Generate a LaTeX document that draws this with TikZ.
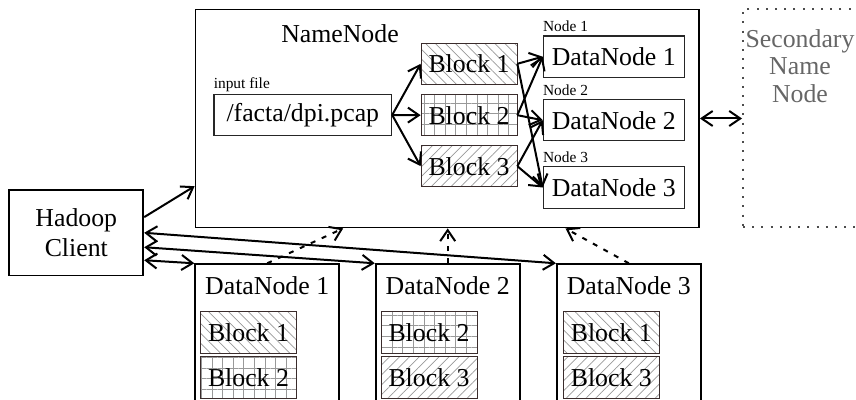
\documentclass[tikz,border=0pt]{standalone}
\usepackage{fontspec}
\setmainfont{Liberation Serif}
\usetikzlibrary{arrows.meta}
\usetikzlibrary{patterns.meta}
\usetikzlibrary{calc}
\definecolor{blkline}{HTML}{3A2C2C}
\tikzset{
    txt/.style={font=\fontsize{12.9}{15}\selectfont},
    lbl/.style={font=\fontsize{7.7}{9}\selectfont, inner sep=0pt, anchor=base west},
    box/.style={draw, line width=0.9pt, inner sep=0pt},
    inbox/.style={draw=black!85, line width=0.6pt, inner sep=0pt, minimum height=20.7pt, txt},
    blk/.style={draw=blkline, line width=0.5pt, inner sep=0pt, minimum width=48pt, minimum height=20.7pt, pattern color=black!40, txt},
    blkone/.style={blk, pattern={Lines[angle=-45,distance=3.5pt,line width=0.35pt]}},
    blktwo/.style={blk, pattern={Hatch[angle=0,distance=5.3pt,line width=0.35pt]}},
    blkthree/.style={blk, pattern={Lines[angle=45,distance=3.5pt,line width=0.35pt]}},
    dnbox/.style={box, minimum width=72pt, minimum height=80pt, anchor=north},
    secbox/.style={draw=black!70, line width=1pt, dash pattern=on 1pt off 3.6pt, inner sep=0pt},
    arr/.style={line width=1pt, -{Straight Barb[length=5.5pt,width=7.5pt]}},
    biarr/.style={line width=1pt, {Straight Barb[length=5.5pt,width=7.5pt]}-{Straight Barb[length=5.5pt,width=7.5pt]}},
    darr/.style={arr, dash pattern=on 2.5pt off 3.5pt},
}

\begin{document}
\begin{tikzpicture}[x=0.5pt, y=-0.5pt]
    \clip (0,0) rectangle (856,400);

    % name node
    \node[box, minimum width=251.75pt, minimum height=109pt] (nn) at (447.25,118.5) {};
    \node[txt, anchor=base] (nntitle) at (340,43) {NameNode};
    \node[inbox, minimum width=88.8pt] (file) at (302.8,115) {/facta/dpi.pcap};
    \node[lbl, yshift=2.5pt] (filelbl) at (file.north west) {input file};
    \node[blkone] (b1) at (469,63.8) {Block 1};
    \node[blktwo] (b2) at (469,115.2) {Block 2};
    \node[blkthree] (b3) at (469,166.2) {Block 3};
    \node[inbox, minimum width=70.5pt] (d1) at (613.8,56.7) {DataNode 1};
    \node[inbox, minimum width=70.5pt] (d2) at (613.8,120.2) {DataNode 2};
    \node[inbox, minimum width=70.5pt] (d3) at (613.8,187.5) {DataNode 3};
    \node[lbl, yshift=1.7pt] (d1lbl) at (d1.north west) {Node 1};
    \node[lbl, yshift=1.7pt] (d2lbl) at (d2.north west) {Node 2};
    \node[lbl, yshift=1.7pt] (d3lbl) at (d3.north west) {Node 3};

    \draw[arr] (file.east) -- (b1.west);
    \draw[arr] (file.east) -- (b2.west);
    \draw[arr] (file.east) -- (b3.west);
    \draw[arr] (b1.east) -- (d1.west);
    \draw[arr] (b1.east) -- (d3.west);
    \draw[arr] (b2.east) -- (d1.west);
    \draw[arr] (b2.east) -- (d2.west);
    \draw[arr] (b3.east) -- (d2.west);
    \draw[arr] (b3.east) -- (d3.west);

    % secondary name node
    \node[secbox, minimum width=57.5pt, minimum height=109pt] (snn) at (800.5,118.5) {};
    \node[text=black!60, align=center, font=\fontsize{12.9}{13.75}\selectfont] (snntext) at (800,65.7) {Secondary\\Name\\Node};
    \draw[biarr] (nn.east) -- (nn.east -| snn.west);

    % client
    \node[box, txt, align=center, minimum width=67pt, minimum height=42.8pt] (cl) at (76.3,232.8) {Hadoop\\Client};
    \draw[arr] (cl.13) -- (nn.195);

    % data nodes
    \node[dnbox] (dn1) at (267.2,263.3) {};
    \node[txt, anchor=base] (dn1title) at (267.2,294.5) {DataNode 1};
    \node[blkone] (dn1b1) at (248.5,332.5) {Block 1};
    \node[blktwo] (dn1b2) at (248.5,377.5) {Block 2};

    \node[dnbox] (dn2) at (447.7,263.3) {};
    \node[txt, anchor=base] (dn2title) at (447.7,294.5) {DataNode 2};
    \node[blktwo] (dn2b2) at (429,332.5) {Block 2};
    \node[blkthree] (dn2b3) at (429,377.5) {Block 3};

    \node[dnbox] (dn3) at (628.8,263.3) {};
    \node[txt, anchor=base] (dn3title) at (628.8,294.5) {DataNode 3};
    \node[blkone] (dn3b1) at (611.3,332.5) {Block 1};
    \node[blkthree] (dn3b3) at (611.3,377.5) {Block 3};

    \draw[biarr] (cl.-22) -- (dn1.north west);
    \draw[biarr] (cl.-12) -- (dn2.north west);
    \draw[biarr] (cl.east) -- (dn3.north west);
    \draw[darr] (dn1.north) -- ($(nn.south west)!0.294!(nn.south east)$);
    \draw[darr] (dn2.north) -- (dn2.north |- nn.south);
    \draw[darr] (dn3.north) -- ($(nn.south west)!0.734!(nn.south east)$);
\end{tikzpicture}
\end{document}
